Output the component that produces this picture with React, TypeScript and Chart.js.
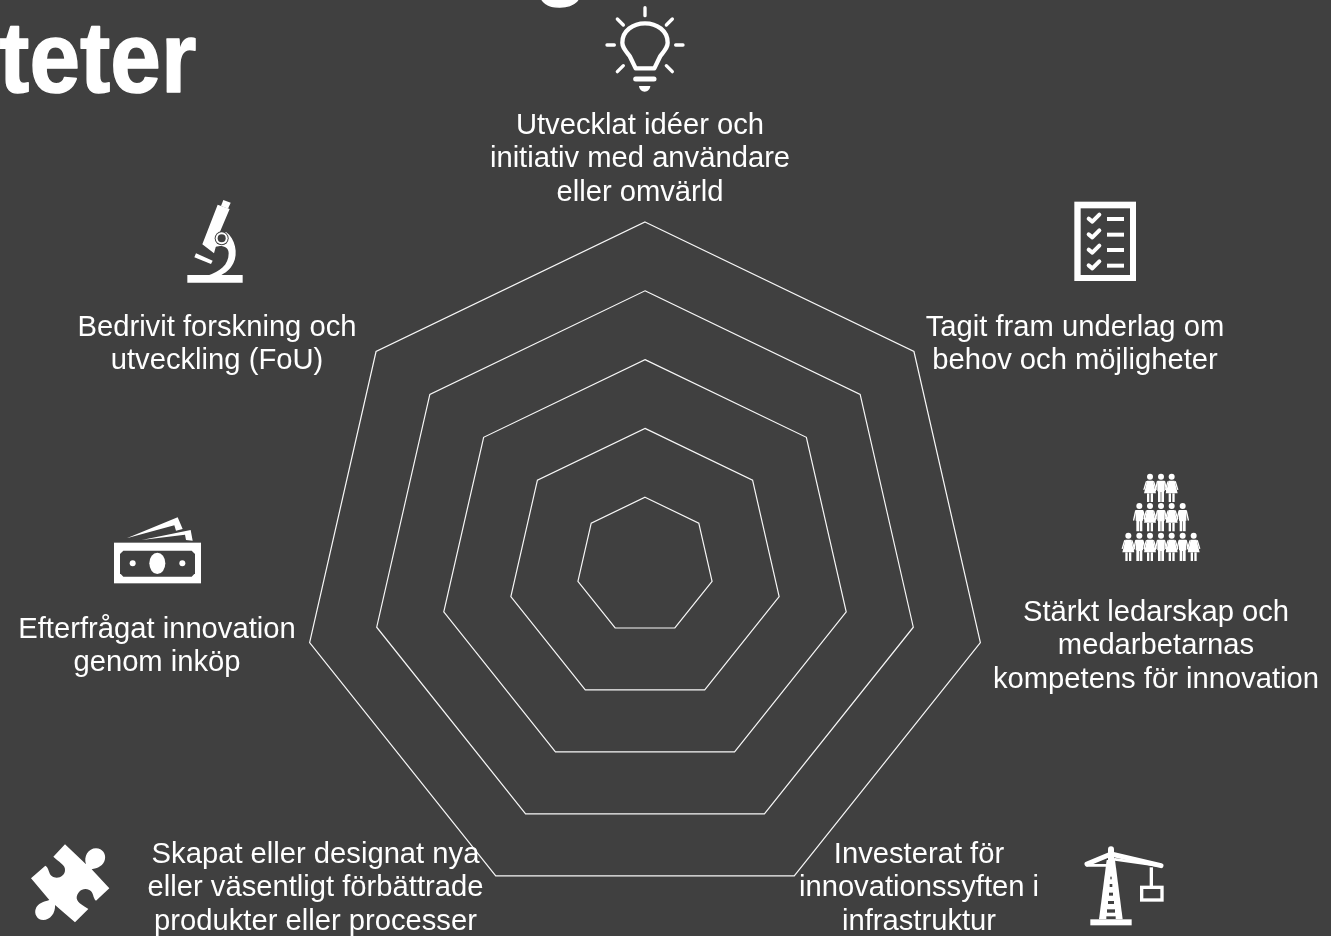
import React, { useEffect, useRef } from "react";
import { Chart, registerables } from "chart.js";

Chart.register(...registerables);

// Categories of the radar, clockwise from the top, one entry per text line
const categoryLines: string[][] = [
  ["Utvecklat idéer och", "initiativ med användare", "eller omvärld"],
  ["Tagit fram underlag om", "behov och möjligheter"],
  ["Stärkt ledarskap och", "medarbetarnas", "kompetens för innovation"],
  ["Investerat för", "innovationssyften i", "infrastruktur"],
  ["Skapat eller designat nya", "eller väsentligt förbättrade", "produkter eller processer"],
  ["Efterfrågat innovation", "genom inköp"],
  ["Bedrivit forskning och", "utveckling (FoU)"],
];
const seriesValues: (number | null)[] = [null, null, null, null, null, null, null];
const scaleMin = 0;
const scaleMax = 5;
const scaleStep = 1;
const titleFragments = ["g", "teter"];

const BG = "#404040";
const FG = "#ffffff";

// Layout of the free-standing text: centre x and first-line y per category
const labelAnchors: [number, number][] = [
  [640, 125.5],
  [1075, 327.5],
  [1156, 612.5],
  [919, 854.5],
  [315.5, 854.5],
  [157, 629.5],
  [217, 327.5],
];
const titleAnchors: [number, number][] = [
  [586, -14],
  [-1, 91.5],
];

type Ctx = CanvasRenderingContext2D;

function inIcon(ctx: Ctx, ox: number, oy: number, draw: () => void) {
  ctx.save();
  ctx.translate(ox, oy);
  ctx.scale(1 / 3, 1 / 3);
  ctx.fillStyle = FG;
  ctx.strokeStyle = FG;
  ctx.lineCap = "round";
  ctx.lineJoin = "round";
  draw();
  ctx.restore();
}
const fillP = (ctx: Ctx, d: string, color = FG) => {
  ctx.fillStyle = color;
  ctx.fill(new Path2D(d));
};
const strokeP = (ctx: Ctx, d: string, w: number) => {
  ctx.lineWidth = w;
  ctx.stroke(new Path2D(d));
};

function bulb(ctx: Ctx) {
  inIcon(ctx, 595, 0, () => {
    strokeP(ctx, "M150 23V47M67 57L85 75M232 57L214 75M36 135H58M242 135H264M67 215L85 197M232 215L214 197", 10);
    strokeP(ctx, "M122 205H178L196 168C210 150 218 142 218 128C218 92 186 70 150 70C114 70 82 92 82 128C82 142 90 150 104 168Z", 13);
    strokeP(ctx, "M122 237H177", 15);
    fillP(ctx, "M132 258H166C165 268 158 275 149 275C140 275 133 268 132 258Z");
  });
}
function microscope(ctx: Ctx) {
  inIcon(ctx, 170, 190, () => {
    fillP(ctx, "M160 30L182 38L174 56L153 48Z");
    fillP(ctx, "M143 44L179 57L150 125L132 190L97 163Z");
    fillP(ctx, "M78 190L128 212L123 222L73 202Z");
    fillP(ctx, "M52 255H218V278H52Z");
    fillP(ctx, "M168 126C196 146 205 190 190 220C180 240 165 250 150 257H112C150 245 176 225 176 190C176 175 165 168 150 168L128 172L135 150Z");
    ctx.fillStyle = BG;
    ctx.beginPath();
    ctx.arc(155, 145, 21, 0, Math.PI * 2);
    ctx.fill();
    ctx.fillStyle = FG;
    ctx.beginPath();
    ctx.arc(155, 145, 18, 0, Math.PI * 2);
    ctx.fill();
    ctx.fillStyle = BG;
    ctx.beginPath();
    ctx.arc(155, 145, 12, 0, Math.PI * 2);
    ctx.fill();
  });
}
function checklist(ctx: Ctx) {
  inIcon(ctx, 1060, 195, () => {
    ctx.fillRect(43, 20, 185, 238);
    ctx.fillStyle = BG;
    ctx.fillRect(62, 40, 148, 200);
    ctx.fillStyle = FG;
    [66, 113, 159, 206].forEach((y) => {
      ctx.fillRect(141, y, 51, 12);
      strokeP(ctx, `M86 ${y + 5}L97 ${y + 14}L118 ${y - 7}`, 12);
    });
  });
}
function person(ctx: Ctx, cx: number, top: number, female: boolean) {
  ctx.beginPath();
  ctx.arc(cx, top, 9, 0, Math.PI * 2);
  ctx.fill();
  if (female) {
    fillP(ctx, `M${cx - 9} ${top + 12}H${cx + 9}L${cx + 13} ${top + 30}L${cx + 18} ${top + 50}H${cx - 18}L${cx - 13} ${top + 30}Z`);
    ctx.fillRect(cx - 9, top + 50, 7, 26);
    ctx.fillRect(cx + 2, top + 50, 7, 26);
    strokeP(ctx, `M${cx - 11} ${top + 15}L${cx - 18} ${top + 38}M${cx + 11} ${top + 15}L${cx + 18} ${top + 38}`, 4);
  } else {
    fillP(ctx, `M${cx - 11} ${top + 12}H${cx + 11}V${top + 44}H${cx + 9}V${top + 76}H${cx + 1}V${top + 46}H${cx - 1}V${top + 76}H${cx - 9}V${top + 44}H${cx - 11}Z`);
    strokeP(ctx, `M${cx - 11} ${top + 15}L${cx - 17} ${top + 42}M${cx + 11} ${top + 15}L${cx + 17} ${top + 42}`, 4);
  }
}
function people(ctx: Ctx) {
  inIcon(ctx, 1110, 465, () => {
    const rows: [number, number[], number][] = [
      [35, [120, 153, 185], 0],
      [123, [88, 120, 153, 185, 218], 1],
      [212, [55, 88, 120, 153, 185, 218, 251], 0],
    ];
    rows.forEach(([top, xs, start]) => xs.forEach((x, i) => person(ctx, x, top, (i + start) % 2 === 0)));
  });
}
function money(ctx: Ctx) {
  inIcon(ctx, 100, 510, () => {
    ctx.fillRect(42, 98, 261, 122);
    fillP(ctx, "M70 122H275L285 132V190L275 200H70L60 190V132Z", BG);
    ctx.fillStyle = FG;
    ctx.beginPath();
    ctx.ellipse(172, 160, 24, 32, 0, 0, Math.PI * 2);
    ctx.fill();
    ctx.beginPath();
    ctx.arc(98, 160, 9, 0, Math.PI * 2);
    ctx.fill();
    ctx.beginPath();
    ctx.arc(247, 160, 9, 0, Math.PI * 2);
    ctx.fill();
    fillP(ctx, "M80 85L233 22L248 57L228 62L223 46Z");
    fillP(ctx, "M125 90L272 60L278 92L258 90L255 74Z");
  });
}
function puzzle(ctx: Ctx) {
  inIcon(ctx, 20, 835, () => {
    fillP(ctx, "M33 130L76 92C88 100 85 115 95 123C110 135 135 125 135 105C137 90 115 80 100 65L135 28L198 88C190 65 205 40 228 40C248 40 258 58 255 72C252 92 232 100 215 103L268 160L228 197C218 190 222 172 208 165C190 155 170 170 170 190C172 205 195 215 205 222L165 262L105 210C107 235 90 255 70 255C50 255 42 235 47 222C52 205 72 200 88 195Z");
  });
}
function crane(ctx: Ctx) {
  inIcon(ctx, 1075, 840, () => {
    fillP(ctx, "M95 60H120L143 238H72Z");
    ctx.fillRect(46, 238, 124, 18);
    ctx.beginPath();
    ctx.arc(108, 28, 9, 0, Math.PI * 2);
    ctx.fill();
    fillP(ctx, "M99 28H117V60H99Z");
    strokeP(ctx, "M36 72L108 42L258 77", 15);
    strokeP(ctx, "M36 76H95M120 58L258 78", 8);
    ctx.fillRect(224, 82, 10, 60);
    ctx.lineCap = "butt";
    ctx.lineJoin = "miter";
    ctx.lineWidth = 10;
    ctx.strokeRect(200, 142, 61, 38);
    ctx.fillStyle = BG;
    ([[110, 2, 8], [132, 4, 9], [158, 6, 9], [183, 9, 9], [208, 12, 10], [229, 14, 8]] as number[][]).forEach(([y, w, h]) => {
      ctx.fillRect(108 - w, y, w * 2, h);
    });
  });
}

const decorations = {
  id: "decorations",
  afterDraw(chart: Chart) {
    const ctx = chart.ctx;
    ctx.save();
    ctx.fillStyle = FG;
    ctx.textAlign = "center";
    ctx.textBaseline = "middle";
    ctx.font = '29.2px "Liberation Sans", Arial, sans-serif';
    categoryLines.forEach((lines, i) => {
      const [x, y] = labelAnchors[i];
      lines.forEach((line, j) => ctx.fillText(line, x, y + j * 33.6));
    });
    ctx.restore();
    ctx.save();
    ctx.fillStyle = FG;
    ctx.strokeStyle = FG;
    ctx.lineWidth = 1.5;
    ctx.lineJoin = "round";
    ctx.textAlign = "left";
    ctx.textBaseline = "alphabetic";
    ctx.font = 'bold 100px "Liberation Sans", sans-serif';
    ctx.scale(0.91, 1);
    titleFragments.forEach((t, i) => {
      ctx.fillText(t, titleAnchors[i][0], titleAnchors[i][1]);
      ctx.strokeText(t, titleAnchors[i][0], titleAnchors[i][1]);
    });
    ctx.restore();
    [bulb, microscope, checklist, people, money, puzzle, crane].forEach((f) => f(ctx));
  },
};

export default function App() {
  const ref = useRef<HTMLCanvasElement>(null);
  useEffect(() => {
    document.body.style.margin = "0";
    document.body.style.background = BG;
    const chart = new Chart(ref.current!, {
      type: "radar",
      data: {
        labels: categoryLines.map((l) => l.join(" ")),
        datasets: [{ label: "Aktiviteter", data: seriesValues, borderWidth: 0, pointRadius: 0, backgroundColor: "transparent", borderColor: "transparent" }],
      },
      options: {
        responsive: false,
        animation: false,
        layout: { padding: { left: 301, right: 342, top: 222, bottom: 26 } },
        plugins: { legend: { display: false }, tooltip: { enabled: false } },
        scales: {
          r: {
            min: scaleMin,
            max: scaleMax,
            beginAtZero: true,
            ticks: { display: false, stepSize: scaleStep },
            grid: { color: "#f7f7f7", lineWidth: 1.2 },
            angleLines: { display: false },
            pointLabels: { display: false },
          },
        },
      },
      plugins: [decorations],
    } as any);
    return () => chart.destroy();
  }, []);
  return (
    <div style={{ position: "relative", width: 1331, height: 936, overflow: "hidden", background: BG }}>
      <canvas ref={ref} width={1331} height={936} style={{ display: "block" }} />
    </div>
  );
}
